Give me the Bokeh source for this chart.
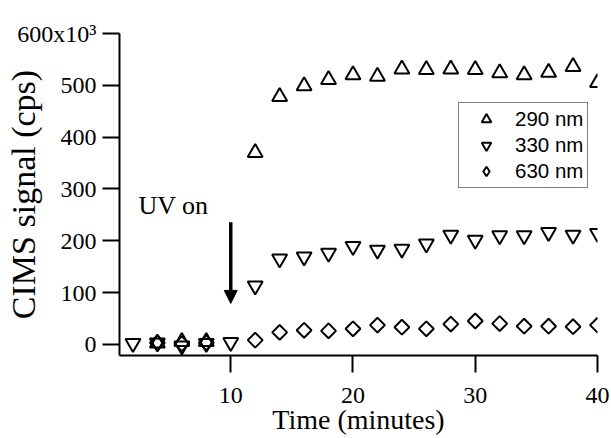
import numpy as np
from bokeh.plotting import figure
from bokeh.models import (Range1d, FixedTicker, CustomJSTickFormatter, Legend,
                          LegendItem, Label, Arrow, NormalHead)
from bokeh.embed import file_html
from bokeh.resources import INLINE

# ---- data (signal in thousands of cps) ----
t_290 = [4, 6, 8, 12, 14, 16, 18, 20, 22, 24, 26, 28, 30, 32, 34, 36, 38, 40]
s_290_k = [2, 5, 5, 370, 478, 499, 511, 520, 517, 531, 530, 531, 530, 524, 520, 525, 536, 505]

t_330 = [2, 4, 6, 8, 10, 12, 14, 16, 18, 20, 22, 24, 26, 28, 30, 32, 34, 36, 38, 40]
s_330_k = [2, 3, -3, 2, 4, 113, 165, 169, 176, 189, 182, 184, 194, 211, 201, 210, 210, 216, 211, 214]

t_630 = [4, 6, 8, 12, 14, 16, 18, 20, 22, 24, 26, 28, 30, 32, 34, 36, 38, 40]
s_630_k = [3, 1, 3, 8, 23, 27, 26, 30, 37, 33, 30, 39, 45, 40, 35, 35, 34, 37]

series_labels = ["290 nm", "330 nm", "630 nm"]
x_ticks = [10, 20, 30, 40]
y_ticks_k = [0, 100, 200, 300, 400, 500, 600]
y_top_label = "600x10\u00b3"

s_290 = np.array(s_290_k) * 1000
s_330 = np.array(s_330_k) * 1000
s_630 = np.array(s_630_k) * 1000

SERIF = "Liberation Serif"
SANS = "Liberation Sans"

p = figure(width=611, height=438, output_backend="svg", toolbar_location=None,
           x_range=Range1d(0.9, 40), y_range=Range1d(-21600, 600000),
           min_border_left=119, min_border_right=14, min_border_top=33,
           min_border_bottom=83)
p.xgrid.visible = False
p.ygrid.visible = False
p.outline_line_color = None
p.background_fill_color = "white"
p.border_fill_color = "white"

xa = p.xaxis[0]
ya = p.yaxis[0]
for ax in (xa, ya):
    ax.axis_line_width = 2
    ax.axis_line_color = "black"
    ax.major_tick_line_width = 2
    ax.major_tick_line_color = "black"
    ax.major_tick_in = 0
    ax.major_tick_out = 17
    ax.minor_tick_line_color = None
    ax.major_label_text_font = SERIF
    ax.major_label_text_font_size = "24px"
    ax.major_label_text_color = "black"
    ax.axis_label_text_font = SERIF
    ax.axis_label_text_font_style = "normal"
    ax.axis_label_text_color = "black"

xa.ticker = FixedTicker(ticks=x_ticks)
xa.axis_label = "Time (minutes)"
xa.axis_label_text_font_size = "28px"
xa.major_label_standoff = 15
xa.axis_label_standoff = -2

ya.ticker = FixedTicker(ticks=[v * 1000 for v in y_ticks_k])
ya.formatter = CustomJSTickFormatter(
    args=dict(top=y_top_label),
    code="return tick >= 600000 ? top : (tick/1000).toFixed(0);")
ya.axis_label = "CIMS signal (cps)"
ya.axis_label_text_font_size = "34px"
ya.major_label_standoff = 6
ya.axis_label_standoff = -28

r1 = p.scatter(t_290, s_290, marker="triangle", size=15, fill_color=None,
               line_color="black", line_width=2)
r2 = p.scatter(t_330, s_330, marker="inverted_triangle", size=15, fill_color=None,
               line_color="black", line_width=2)
r3 = p.scatter(t_630, s_630, marker="square", angle=np.pi / 4, size=10.5,
               fill_color=None, line_color="black", line_width=2)
# legend symbol for the diamond series (legend glyphs are drawn unrotated)
r3_key = p.scatter(x=[np.nan], y=[np.nan], marker="diamond", fill_color=None,
                   line_color="black", line_width=2)

legend = Legend(items=[LegendItem(label=series_labels[0], renderers=[r1]),
                       LegendItem(label=series_labels[1], renderers=[r2]),
                       LegendItem(label=series_labels[2], renderers=[r3_key])],
                location=(339, 167), margin=0, padding=4, spacing=2,
                glyph_width=46, glyph_height=24, label_standoff=6,
                label_text_font=SANS, label_text_font_size="20.5px",
                label_text_color="black",
                border_line_color="black", border_line_width=1.5,
                background_fill_color="white", background_fill_alpha=1.0)
p.add_layout(legend)

# annotation
p.add_layout(Label(x=2.45, y=268000, text="UV on", text_align="left",
                   text_baseline="alphabetic", text_font=SERIF,
                   text_font_size="26px", text_color="black"))
p.add_layout(Arrow(x_start=10, y_start=235500, x_end=10, y_end=79000,
                   line_width=3.5, line_color="black",
                   end=NormalHead(size=13, fill_color="black", line_color="black",
                                  line_width=1)))

open("out.html", "w").write(file_html(p, INLINE))
